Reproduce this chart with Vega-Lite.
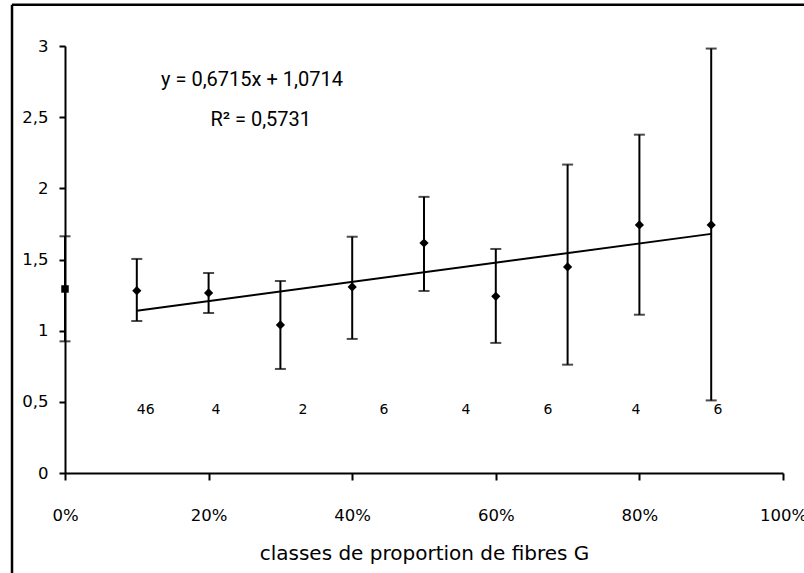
{
  "$schema": "https://vega.github.io/schema/vega-lite/v6.json",
  "width": 718,
  "height": 427,
  "autosize": {"type": "none"},
  "padding": {"left": 65, "top": 46, "right": 21, "bottom": 100},
  "background": "white",
  "config": {
    "view": {"stroke": null},
    "font": "DejaVu Sans",
    "axis": {
      "grid": false,
      "domainColor": "black",
      "domainWidth": 2,
      "tickColor": "black",
      "tickWidth": 2,
      "labelColor": "black",
      "labelFont": "DejaVu Sans",
      "labelFontSize": 16.5,
      "titleColor": "black",
      "titleFont": "DejaVu Sans",
      "titleFontWeight": "normal"
    }
  },
  "datasets": {
    "moyennes": [
      {"classe": 0.0, "moyenne": 1.293, "min": 0.925, "max": 1.663, "serie": "temoin"},
      {"classe": 0.1, "moyenne": 1.281, "min": 1.068, "max": 1.504, "serie": "G"},
      {"classe": 0.2, "moyenne": 1.265, "min": 1.124, "max": 1.405, "serie": "G"},
      {"classe": 0.3, "moyenne": 1.040, "min": 0.731, "max": 1.349, "serie": "G"},
      {"classe": 0.4, "moyenne": 1.307, "min": 0.942, "max": 1.660, "serie": "G"},
      {"classe": 0.5, "moyenne": 1.616, "min": 1.279, "max": 1.940, "serie": "G"},
      {"classe": 0.6, "moyenne": 1.241, "min": 0.914, "max": 1.574, "serie": "G"},
      {"classe": 0.7, "moyenne": 1.448, "min": 0.761, "max": 2.167, "serie": "G"},
      {"classe": 0.8, "moyenne": 1.743, "min": 1.112, "max": 2.377, "serie": "G"},
      {"classe": 0.9, "moyenne": 1.743, "min": 0.510, "max": 2.982, "serie": "G"}
    ],
    "tendance": [
      {"x1": 0.1, "y1": 1.14, "x2": 0.9, "y2": 1.68}
    ],
    "effectifs": [
      {"pos": 0.1124, "n": "46"},
      {"pos": 0.2103, "n": "4"},
      {"pos": 0.3315, "n": "2"},
      {"pos": 0.4443, "n": "6"},
      {"pos": 0.5585, "n": "4"},
      {"pos": 0.6727, "n": "6"},
      {"pos": 0.7953, "n": "4"},
      {"pos": 0.9095, "n": "6"}
    ],
    "equation": [
      {"px": 0.2604, "py": 2.716, "txt": "y = 0,6715x + 1,0714"},
      {"px": 0.2726, "py": 2.440, "txt": "R² = 0,5731"}
    ],
    "cadre": [
      {"xa": -0.0738, "xb": -0.0738, "ya": -0.75, "yb": 3.29},
      {"xa": -0.0738, "xb": 1.05, "ya": 3.29, "yb": 3.29}
    ]
  },
  "layer": [
    {
      "data": {"name": "moyennes"},
      "mark": {"type": "rule", "color": "black", "strokeWidth": 2},
      "encoding": {
        "x": {
          "field": "classe", "type": "quantitative",
          "title": "classes de proportion de fibres G",
          "scale": {"domain": [0, 1]},
          "axis": {
            "values": [0, 0.2, 0.4, 0.6, 0.8, 1],
            "format": ".0%",
            "tickSize": 7,
            "labelPadding": 27,
            "labelFlush": false,
            "labelOverlap": false,
            "titleFontSize": 20,
            "titlePadding": 20
          }
        },
        "y": {
          "field": "min", "type": "quantitative",
          "title": null,
          "scale": {"domain": [0, 3]},
          "axis": {
            "values": [0, 0.5, 1, 1.5, 2, 2.5, 3],
            "format": "~g",
            "labelExpr": "replace(datum.label, '.', ',')",
            "tickSize": 6,
            "labelPadding": 11
          }
        },
        "y2": {"field": "max"}
      }
    },
    {
      "data": {"name": "cadre"},
      "mark": {"type": "rule", "color": "black", "strokeWidth": 2.5, "clip": false},
      "encoding": {
        "x": {"field": "xa", "type": "quantitative", "title": "classes de proportion de fibres G"},
        "x2": {"field": "xb"},
        "y": {"field": "ya", "type": "quantitative", "title": null},
        "y2": {"field": "yb"}
      }
    },
    {
      "data": {"name": "moyennes"},
      "mark": {"type": "tick", "orient": "horizontal", "color": "black", "size": 11, "thickness": 2},
      "encoding": {
        "x": {"field": "classe", "type": "quantitative", "title": "classes de proportion de fibres G"},
        "y": {"field": "min", "type": "quantitative", "title": null}
      }
    },
    {
      "data": {"name": "moyennes"},
      "mark": {"type": "tick", "orient": "horizontal", "color": "black", "size": 11, "thickness": 2},
      "encoding": {
        "x": {"field": "classe", "type": "quantitative", "title": "classes de proportion de fibres G"},
        "y": {"field": "max", "type": "quantitative", "title": null}
      }
    },
    {
      "data": {"name": "tendance"},
      "mark": {"type": "rule", "color": "black", "strokeWidth": 2},
      "encoding": {
        "x": {"field": "x1", "type": "quantitative", "title": "classes de proportion de fibres G"},
        "y": {"field": "y1", "type": "quantitative", "title": null},
        "x2": {"field": "x2"},
        "y2": {"field": "y2"}
      }
    },
    {
      "data": {"name": "moyennes"},
      "transform": [{"filter": "datum.serie === 'G'"}],
      "mark": {"type": "point", "shape": "diamond", "filled": true, "color": "black", "opacity": 1, "size": 85},
      "encoding": {
        "x": {"field": "classe", "type": "quantitative", "title": "classes de proportion de fibres G"},
        "y": {"field": "moyenne", "type": "quantitative", "title": null}
      }
    },
    {
      "data": {"name": "moyennes"},
      "transform": [{"filter": "datum.serie === 'temoin'"}],
      "mark": {"type": "point", "shape": "square", "filled": true, "color": "black", "opacity": 1, "size": 56},
      "encoding": {
        "x": {"field": "classe", "type": "quantitative", "title": "classes de proportion de fibres G"},
        "y": {"field": "moyenne", "type": "quantitative", "title": null}
      }
    },
    {
      "data": {"name": "effectifs"},
      "mark": {"type": "text", "font": "DejaVu Sans", "fontSize": 14, "color": "black", "align": "center", "baseline": "alphabetic"},
      "encoding": {
        "x": {"field": "pos", "type": "quantitative", "title": "classes de proportion de fibres G"},
        "y": {"datum": 0.4145, "type": "quantitative", "title": null},
        "text": {"field": "n"}
      }
    },
    {
      "data": {"name": "equation"},
      "mark": {"type": "text", "font": "Roboto", "fontSize": 20, "color": "black", "align": "center", "baseline": "alphabetic"},
      "encoding": {
        "x": {"field": "px", "type": "quantitative", "title": "classes de proportion de fibres G"},
        "y": {"field": "py", "type": "quantitative", "title": null},
        "text": {"field": "txt"}
      }
    }
  ]
}
